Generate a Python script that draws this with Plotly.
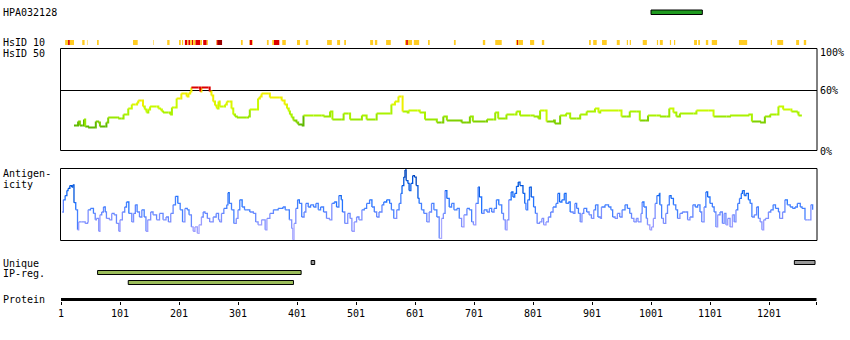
import plotly.graph_objects as go

# ---------------------------------------------------------------- data
PROTEIN_LEN = 1281
TICK_RES = [1, 101, 201, 301, 401, 501, 601, 701, 801, 901, 1001, 1101, 1201]

# antibody antigen region (HPA032128)
HPA_START, HPA_END = 1001, 1088

# HsID 50: smoothed identity (%) along the sequence
HSID_POS = [23, 28, 30, 33, 37, 40, 42, 47, 59, 60, 64, 67, 76, 78, 81, 96, 98, 104, 107, 113,
            115, 118, 121, 127, 130, 132, 138, 140, 143, 146, 149, 152, 163, 166, 169, 172, 174,
            183, 186, 189, 194, 197, 203, 205, 211, 214, 217, 220, 222, 234, 237, 239, 251, 253,
            256, 259, 262, 265, 268, 270, 276, 279, 282, 287, 290, 293, 296, 299, 316, 318, 321,
            333, 335, 338, 341, 352, 355, 372, 375, 380, 384, 387, 389, 392, 395, 400, 403,
            409, 412, 429, 443, 446, 457, 461, 477, 480, 488, 491, 508, 511, 518, 519, 534, 536,
            559, 561, 567, 573, 578, 580, 587, 590, 605, 609, 618, 638, 646, 649, 655, 680, 689,
            694, 699, 720, 723, 734, 737, 742, 755, 756, 770, 773, 779, 797, 802, 810, 813, 820,
            824, 835, 838, 847, 857, 864, 875, 881, 892, 906, 912, 915, 946, 951, 960, 965, 977,
            982, 991, 996, 1010, 1016, 1027, 1032, 1039, 1044, 1050, 1073, 1078, 1098, 1107, 1129,
            1135, 1166, 1172, 1186, 1194, 1203, 1214, 1217, 1225, 1237, 1239, 1248, 1251, 1255]
HSID_VAL = [25, 25, 29, 25, 25, 31, 24, 23, 23, 29, 28, 24, 24, 28, 33, 33, 32, 32, 36, 36,
            42, 42, 46, 46, 48, 50, 50, 44, 41, 38, 41, 44, 44, 42, 41, 39, 38,
            38, 36, 43, 43, 52, 52, 57, 57, 54, 57, 59, 63, 63, 59, 63, 63, 59,
            55, 49, 45, 42, 49, 44, 44, 46, 49, 49, 42, 36, 34, 33, 33, 34, 41,
            41, 52, 54, 57, 57, 53, 53, 50, 46, 42, 39, 36, 33, 30, 28, 26,
            25, 35, 35, 35, 34, 39, 31, 31, 37, 37, 31, 31, 35, 35, 31, 31, 37,
            37, 46, 49, 54, 54, 39, 38, 40, 40, 38, 31, 28, 28, 34, 30, 28, 28,
            34, 29, 29, 31, 31, 38, 32, 32, 36, 36, 39, 35, 35, 34, 32, 40, 40,
            29, 30, 27, 35, 37, 32, 32, 36, 39, 42, 38, 40, 40, 34, 34, 39, 39,
            30, 30, 35, 35, 34, 34, 42, 38, 34, 37, 37, 40, 40, 34, 34,
            35, 36, 29, 28, 34, 36, 36, 44, 41, 41, 39, 38, 35, 36]

# Antigenicity profile (relative score, 0-100)
ANTIG_POS = [3, 5, 8, 11, 13, 16, 19, 21, 23, 26, 29, 31, 36, 42, 46, 47, 51, 56, 59, 61, 65, 67,
             70, 73, 76, 78, 83, 87, 91, 95, 99, 101, 105, 109, 112, 116, 121, 124, 127, 130, 134,
             138, 142, 145, 148, 153, 157, 163, 168, 174, 179, 183, 187, 191, 195, 199, 203, 207,
             211, 215, 218, 222, 225, 228, 232, 235, 239, 242, 245, 249, 253, 259, 264, 268, 270,
             273, 277, 282, 284, 286, 290, 294, 298, 301, 304, 308, 312, 316, 321, 327, 331, 335,
             341, 347, 350, 355, 361, 369, 377, 381, 385, 388, 392, 394, 396, 399, 402, 405,
             409, 413, 416, 420, 424, 429, 433, 437, 441, 446, 451, 456, 460, 464, 468, 472, 476,
             478, 482, 487, 491, 494, 498, 502, 506, 511, 515, 519, 524, 528, 532, 536, 540, 545,
             548, 553, 558, 561, 565, 570, 574, 577, 579, 582, 584, 586, 589, 591, 594, 597, 600,
             603, 606, 608, 612, 616, 621, 625, 629, 633, 638, 642, 646, 649, 652, 655, 659, 663,
             667, 672, 676, 680, 684, 689, 693, 697, 700, 704, 708, 710, 714, 718, 723, 727, 731,
             735, 739, 743, 748, 751, 754, 757, 760, 764, 767, 770, 773, 776, 779, 784, 787, 789,
             792, 795, 798, 802, 805, 808, 812, 816, 819, 823, 827, 831, 835, 840, 843, 846, 850,
             854, 857, 861, 864, 869, 872, 875, 878,
             881, 884, 887, 892, 896, 900, 904, 907, 911, 915, 917, 923, 929, 933, 936, 940, 944,
             948, 952, 957, 961, 965, 968, 972, 976, 979, 984, 986, 989, 993, 995, 999, 1002, 1005,
             1008, 1011, 1015, 1016, 1019, 1022, 1026, 1029, 1032, 1035, 1039, 1043, 1046, 1050,
             1054, 1059, 1063, 1067, 1072, 1076, 1080, 1084, 1087, 1091, 1094, 1097, 1101, 1105,
             1108, 1111, 1114, 1118, 1122, 1125, 1128, 1131, 1135, 1139, 1142, 1145, 1148, 1151,
             1154, 1156, 1159, 1162, 1166, 1169, 1172, 1176, 1180, 1183, 1186, 1189, 1192, 1195,
             1200, 1204, 1208, 1212, 1217, 1219, 1224, 1228, 1232, 1237, 1241, 1245, 1249, 1254,
             1257, 1262, 1266, 1270, 1272, 1275]
ANTIG_VAL = [39, 56, 62, 69, 72, 76, 74, 77, 52, 42, 14, 25, 25, 23, 25, 42, 44, 37, 28, 30, 12, 35,
             39, 46, 39, 30, 28, 37, 35, 23, 12, 28, 39, 46, 53, 37, 25, 37, 49, 39, 32,
             42, 32, 12, 28, 39, 35, 28, 37, 28, 32, 25, 37, 49, 61, 51, 42, 25,
             44, 42, 35, 18, 12, 18, 9, 21, 32, 39, 37, 30, 25, 32, 37, 28, 25,
             37, 44, 49, 66, 51, 42, 23, 30, 42, 56, 46, 42, 42, 39, 37, 25, 21,
             28, 14, 30, 37, 42, 44, 46, 42, 42, 28, 16, 0, 23, 44, 56, 51,
             32, 39, 51, 46, 49, 46, 51, 42, 46, 39, 30, 28, 51, 53, 46, 62, 56,
             39, 23, 37, 30, 12, 25, 32, 28, 42, 44, 51, 56, 46, 39, 32, 39, 49,
             53, 56, 51, 42, 30, 42, 51, 65, 76, 88, 98, 83, 79, 69, 79, 90, 88,
             76, 58, 51, 42, 37, 25, 39, 51, 42, 32, 2, 30, 37, 69, 58, 46, 51,
             42, 44, 30, 18, 35, 44, 42, 25, 21, 51, 74, 60, 37, 42, 39, 44, 39,
             44, 56, 49, 37, 28, 14, 28, 56, 67, 60, 65, 75, 81, 76, 65, 51, 42,
             56, 74, 60, 46, 37, 23, 25, 30, 21, 25, 32, 39, 46, 51, 65, 53, 56,
             65, 51, 53, 39, 37, 51, 44, 37,
             25, 37, 44, 39, 35, 30, 42, 49, 32, 30, 46, 49, 46, 42, 32, 30, 37,
             32, 42, 49, 44, 37, 30, 25, 30, 25, 37, 53, 46, 30, 21, 14, 18, 30,
             51, 62, 65, 49, 30, 23, 37, 49, 62, 58, 49, 42, 30, 37,
             39, 39, 28, 32, 49, 46, 49, 39, 25, 46, 67, 60, 51, 46,
             39, 18, 35, 39, 23, 37, 21, 30, 18, 35, 25, 42, 51, 58,
             65, 69, 62, 65, 56, 51, 32, 35, 46, 30, 25, 14, 28, 30,
             39, 42, 49, 44, 39, 30, 39, 56, 49, 46, 44, 46, 51, 46,
             44, 28, 28, 28, 49, 42]

# HsID 10 blocks: start, end, level (1 = low, 2 = medium, 3 = high)
HSID10_START = [8, 13, 16, 37, 45, 62, 123, 157, 181, 201, 206, 211, 215, 217, 220, 223, 225, 229,
                237, 242, 248, 264, 265, 267, 306, 320, 321, 325, 350, 359, 362, 376, 401, 416,
                452, 469, 481, 525, 533, 552, 584, 586, 589, 599, 623, 667, 716, 737, 772, 774,
                776, 796, 816, 896, 903, 918, 943, 960, 965, 987, 1011, 1016, 1033, 1040, 1074,
                1081, 1094, 1104, 1150, 1204, 1215, 1247, 1260]
HSID10_END = [13, 16, 23, 41, 46, 65, 131, 158, 185, 204, 208, 215, 217, 220, 223, 225, 229, 237,
              240, 248, 250, 265, 267, 274, 309, 321, 325, 326, 353, 362, 371, 382, 406, 420,
              460, 474, 484, 530, 537, 560, 586, 589, 596, 608, 626, 670, 720, 748, 774, 776,
              784, 803, 820, 899, 909, 926, 948, 962, 967, 994, 1013, 1021, 1035, 1042, 1079,
              1084, 1098, 1113, 1164, 1206, 1225, 1252, 1264]
HSID10_LEVEL = [1, 2, 1, 1, 1, 1, 1, 1, 1, 1, 1, 2, 1, 2, 1, 2, 1, 2,
                1, 2, 1, 1, 2, 3, 1, 1, 2, 1, 1, 1, 2, 1, 1, 1,
                1, 1, 1, 1, 1, 1, 1, 2, 1, 1, 1, 1, 1, 1, 1, 2,
                1, 1, 1, 1, 1, 1, 1, 1, 1, 1, 1, 1, 1, 1, 1,
                1, 1, 1, 1, 1, 1, 1, 1]

# Unique regions and interpro regions
UNIQUE_START = [425, 1244]
UNIQUE_END = [431, 1279]
IPREG_START = [63, 115]
IPREG_END = [408, 395]

# ---------------------------------------------------------------- styling
W, H = 850, 340
PX_PER_RES = 0.59
ORIGIN_PX = 61                       # pixel column of residue 1
FONT = dict(family="DejaVu Sans Mono", size=10, color="black")


def pyf(px):
    """Pixel row -> paper y fraction."""
    return 1 - px / H


def pxf(px):
    """Pixel column -> paper x fraction."""
    return px / W


def hsid_color(v):
    if v >= 60:
        return "#dd0000"
    if v >= 50:
        return "#eef000"
    if v >= 45:
        return "#ddf500"
    if v >= 40:
        return "#c8fa00"
    if v >= 35:
        return "#aaf200"
    if v >= 31:
        return "#99e800"
    if v >= 27:
        return "#7fd000"
    return "#5fb800"


def antig_color(v):
    if v >= 85:
        return "#0044bb"
    if v >= 72:
        return "#0055dd"
    if v >= 62:
        return "#1166f0"
    if v >= 52:
        return "#2474ff"
    if v >= 42:
        return "#4480ff"
    if v >= 32:
        return "#6688ff"
    if v >= 22:
        return "#7f90ff"
    if v >= 12:
        return "#9a9cff"
    return "#aaaaff"


def step_traces(pos, val, colorfn, yaxis, width):
    groups = {}
    for i in range(len(pos) - 1):
        c = colorfn(val[i])
        xs, ys = groups.setdefault(c, ([], []))
        xs += [pos[i], pos[i + 1], pos[i + 1], None]
        ys += [val[i], val[i], val[i + 1], None]
    out = []
    for c, (xs, ys) in groups.items():
        out.append(go.Scatter(x=xs, y=ys, mode="lines", xaxis="x", yaxis=yaxis,
                              line=dict(color=c, width=width), hoverinfo="skip",
                              showlegend=False, connectgaps=False))
    return out


fig = go.Figure()
for t in step_traces(HSID_POS, HSID_VAL, hsid_color, "y2", 2):
    fig.add_trace(t)
for t in step_traces(ANTIG_POS, ANTIG_VAL, antig_color, "y3", 1.3):
    fig.add_trace(t)
# invisible anchor trace for the protein axis
fig.add_trace(go.Scatter(x=[1], y=[0], xaxis="x", yaxis="y", mode="markers",
                         marker=dict(opacity=0), hoverinfo="skip", showlegend=False))

shapes = []
# panel frames
for top, bottom in [(48.5, 150.5), (168.5, 240.5)]:
    shapes.append(dict(type="rect", xref="paper", yref="paper",
                       x0=pxf(60.5), x1=pxf(817), y0=pyf(bottom), y1=pyf(top),
                       line=dict(color="black", width=1), fillcolor="rgba(0,0,0,0)", layer="above"))
# 60 % reference line
shapes.append(dict(type="line", xref="paper", yref="y2", x0=pxf(60.5), x1=pxf(817), y0=60, y1=60,
                   line=dict(color="black", width=1), layer="below"))
# protein axis bar
shapes.append(dict(type="line", xref="x", yref="paper", x0=1, x1=PROTEIN_LEN + 0.5,
                   y0=pyf(299.5), y1=pyf(299.5), line=dict(color="black", width=3)))

# HsID 10 blocks
level_colors = {1: "#ffcc22", 2: "#dd0000", 3: "#990000"}
for s, e, lv in zip(HSID10_START, HSID10_END, HSID10_LEVEL):
    shapes.append(dict(type="rect", xref="x", yref="paper", x0=s, x1=e,
                       y0=pyf(45), y1=pyf(40), line=dict(width=0),
                       fillcolor=level_colors[lv]))

# antigen region
shapes.append(dict(type="rect", xref="x", yref="paper", x0=HPA_START, x1=HPA_END,
                   y0=pyf(14.5), y1=pyf(10), fillcolor="#1f9a1f",
                   line=dict(color="black", width=1)))
# unique regions
for s, e in zip(UNIQUE_START, UNIQUE_END):
    shapes.append(dict(type="rect", xref="x", yref="paper", x0=s, x1=e,
                       y0=pyf(264.5), y1=pyf(260.5), fillcolor="#999999",
                       line=dict(color="black", width=1)))
# interpro regions
for i, (s, e) in enumerate(zip(IPREG_START, IPREG_END)):
    top = 270.5 + 10 * i
    shapes.append(dict(type="rect", xref="x", yref="paper", x0=s, x1=e,
                       y0=pyf(top + 4), y1=pyf(top), fillcolor="#9bbd5a",
                       line=dict(color="black", width=1)))

annotations = []


def label(text, x, y, anchor="left"):
    annotations.append(dict(text=text, xref="paper", yref="paper", x=pxf(x), y=pyf(y),
                            xanchor=anchor, yanchor="middle", showarrow=False,
                            font=FONT, borderpad=0))


label("HPA032128", 2, 13)
label("HsID 10", 2, 42.5)
label("HsID 50", 2, 53)
label("Antigen-", 2, 173.5)
label("icity", 2, 184)
label("Unique", 2, 263)
label("IP-reg.", 2, 273)
label("Protein", 2, 299.5)
label("100%", 819, 52.5)
label("60%", 819, 91)
label("0%", 819, 151)

x_lo = 1 - ORIGIN_PX / PX_PER_RES
x_hi = 1 + (W - ORIGIN_PX) / PX_PER_RES

fig.update_layout(
    width=W, height=H, margin=dict(l=0, r=0, t=0, b=0),
    paper_bgcolor="white", plot_bgcolor="rgba(0,0,0,0)",
    showlegend=False, font=FONT,
    shapes=shapes, annotations=annotations,
    xaxis=dict(domain=[0, 1], range=[x_lo, x_hi], anchor="y",
               tickvals=TICK_RES + [PROTEIN_LEN + 0.5],
               ticktext=[str(t) for t in TICK_RES] + [""],
               ticks="outside", ticklen=3, tickwidth=1, tickcolor="black",
               showgrid=False, zeroline=False, showline=False,
               tickfont=FONT, fixedrange=True),
    yaxis=dict(domain=[pyf(301), pyf(296)], range=[0, 1], visible=False, fixedrange=True),
    yaxis2=dict(domain=[pyf(150.5), pyf(48.5)], range=[0, 102], anchor="x",
                visible=False, fixedrange=True),
    yaxis3=dict(domain=[pyf(240.5), pyf(168.5)], range=[-1, 100], anchor="x",
                visible=False, fixedrange=True),
)

fig.write_html("out.html")
